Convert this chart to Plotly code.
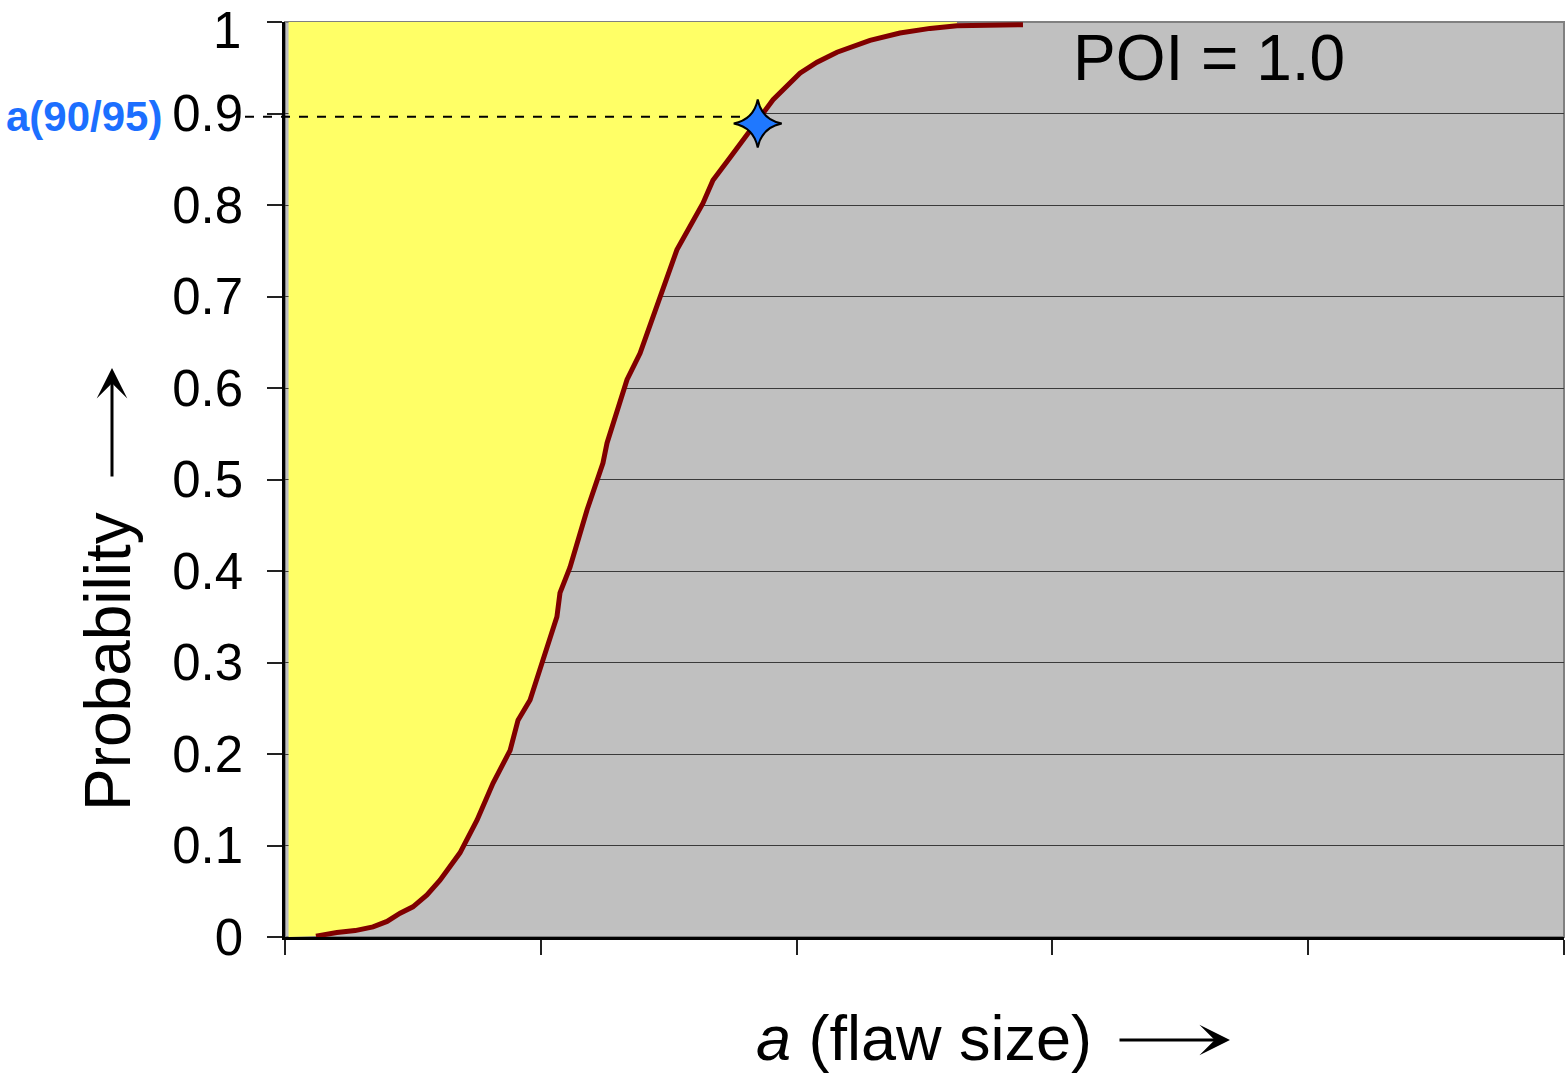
import plotly.graph_objects as go

# ---- data ----
flaw_size = [0.121, 0.203, 0.274, 0.344, 0.399, 0.450, 0.500, 0.555, 0.606, 0.684,
             0.751, 0.813, 0.880, 0.911, 0.958, 1.063, 1.075, 1.114, 1.181, 1.243,
             1.259, 1.337, 1.388, 1.466, 1.532, 1.634, 1.673, 1.740, 1.818, 1.857,
             1.908, 2.013, 2.080, 2.158, 2.287, 2.404, 2.522, 2.627, 2.885]
probability = [0.001, 0.005, 0.007, 0.011, 0.017, 0.026, 0.033, 0.046, 0.062, 0.092,
               0.128, 0.168, 0.204, 0.237, 0.259, 0.350, 0.376, 0.404, 0.467, 0.518,
               0.540, 0.609, 0.638, 0.699, 0.751, 0.802, 0.827, 0.852, 0.882, 0.896,
               0.915, 0.944, 0.956, 0.967, 0.980, 0.988, 0.993, 0.996, 0.997]
a90_95 = [1.848]
p90_95 = [0.889]
dash_level = 0.8965
y_ticks = [0, 0.1, 0.2, 0.3, 0.4, 0.5, 0.6, 0.7, 0.8, 0.9, 1]
y_tick_labels = ["0", "0.1", "0.2", "0.3", "0.4", "0.5", "0.6", "0.7", "0.8", "0.9", "1"]
x_ticks = [0, 1, 2, 3, 4, 5]
X_RANGE = [0, 5]
Y_RANGE = [0, 1]
yellow_left = 0.014

FONT = "Liberation Sans, Arial, sans-serif"

fig = go.Figure()

# yellow region (left of curve)
yx = [yellow_left] + flaw_size[:-1] + [flaw_size[-2], yellow_left]
yy = [0] + probability[:-1] + [1, 1]
fig.add_trace(go.Scatter(x=yx, y=yy, mode="lines", fill="toself",
                         fillcolor="#FFFF66", line=dict(width=0),
                         hoverinfo="skip", showlegend=False))

# POD curve
fig.add_trace(go.Scatter(x=flaw_size, y=probability, mode="lines",
                         line=dict(color="#800000", width=5),
                         showlegend=False))

def xp(a):
    return (a - X_RANGE[0]) / (X_RANGE[1] - X_RANGE[0])

def yp(p):
    return (p - Y_RANGE[0]) / (Y_RANGE[1] - Y_RANGE[0])

W, H = 1566, 1074
L, R, T, B = 285, 2, 22, 137
PW, PH = W - L - R, H - T - B

def px2paper_x(px):
    return (px - L) / PW

def px2paper_y(py):
    return (H - B - py) / PH

# four-pointed star (pixel-sized path anchored at the a90/95 point)
star_path = ("M 0,24 Q 4,4 24,0 Q 4,-4 0,-24 Q -4,-4 -24,0 Q -4,4 0,24 Z")

shapes = [
    # plot border (gray)
    dict(type="rect", xref="paper", yref="paper", x0=0, x1=1, y0=0, y1=1,
         line=dict(color="#808080", width=2), layer="below"),
    # dashed line to a90/95
    dict(type="line", xref="paper", yref="paper",
         x0=px2paper_x(245), x1=xp(a90_95[0]) - 0.012,
         y0=yp(dash_level), y1=yp(dash_level),
         line=dict(color="black", width=2, dash="dash"), layer="above"),
    dict(type="path", xref="x", yref="y", xsizemode="pixel", ysizemode="pixel",
         xanchor=a90_95[0], yanchor=p90_95[0], path=star_path,
         fillcolor="#1F78FF", line=dict(color="black", width=2), layer="above"),
]

annotations = [
    # top tick label, kept inside the page
    dict(text=y_tick_labels[-1], xref="paper", yref="paper", x=px2paper_x(243),
         y=px2paper_y(0), xanchor="right", yanchor="top", showarrow=False,
         font=dict(family=FONT, size=51, color="black")),
    dict(text="a(90/95)", xref="paper", yref="paper", x=px2paper_x(84), y=yp(dash_level),
         xanchor="center", yanchor="middle", showarrow=False,
         font=dict(family=FONT, size=42, color="#1C6FFF", weight="bold")),
    dict(text="POI = 1.0", xref="paper", yref="paper", x=px2paper_x(1209), y=px2paper_y(58),
         xanchor="center", yanchor="middle", showarrow=False,
         font=dict(family=FONT, size=64, color="black")),
    dict(text="Probability", xref="paper", yref="paper", x=px2paper_x(108), y=px2paper_y(662),
         xanchor="center", yanchor="middle", textangle=-90, showarrow=False,
         font=dict(family=FONT, size=64, color="black")),
    dict(text="<i>a</i> (flaw size)", xref="paper", yref="paper", x=px2paper_x(924), y=px2paper_y(1038),
         xanchor="center", yanchor="middle", showarrow=False,
         font=dict(family=FONT, size=63, color="black")),
    # up arrow
    dict(text="", xref="paper", yref="paper", x=px2paper_x(112), y=px2paper_y(368),
         ax=0, ay=110, showarrow=True, arrowhead=3, arrowsize=1.7, arrowwidth=3,
         arrowcolor="black"),
    # right arrow
    dict(text="", xref="paper", yref="paper", x=px2paper_x(1230), y=px2paper_y(1040),
         ax=-112, ay=0, showarrow=True, arrowhead=3, arrowsize=1.7, arrowwidth=3,
         arrowcolor="black"),
]

fig.update_layout(
    width=W, height=H,
    margin=dict(l=L, r=R, t=T, b=B, autoexpand=False),
    paper_bgcolor="white", plot_bgcolor="#C0C0C0",
    showlegend=False,
    shapes=shapes, annotations=annotations,
    font=dict(family=FONT, color="black"),
)
fig.update_xaxes(range=X_RANGE, tickvals=x_ticks, showticklabels=False,
                 ticks="outside", ticklen=15, tickwidth=2, tickcolor="#222",
                 showgrid=False, zeroline=False, showline=True, linecolor="black",
                 linewidth=2.5, automargin=False)
fig.update_yaxes(range=Y_RANGE, tickvals=y_ticks,
                 ticktext=y_tick_labels[:-1] + [""],
                 ticks="outside", ticklen=15, tickwidth=2, tickcolor="#222",
                 tickfont=dict(family=FONT, size=51, color="black"),
                 ticklabelstandoff=14, automargin=False,
                 showgrid=True, gridcolor="#3a3a3a", gridwidth=1.2,
                 zeroline=False, showline=True, linecolor="black", linewidth=2.5)

fig.write_html("out.html")
